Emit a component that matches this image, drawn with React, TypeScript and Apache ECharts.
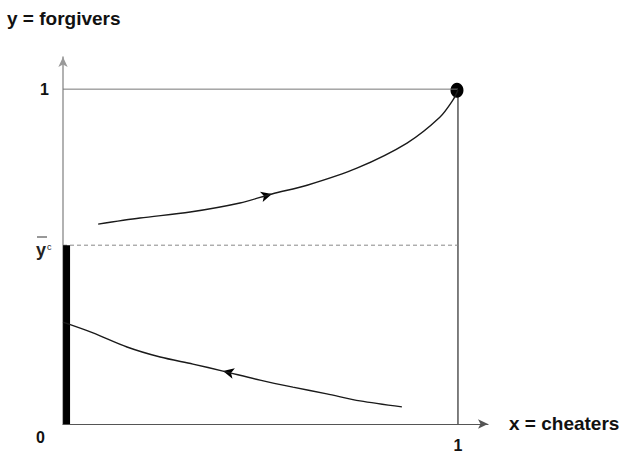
import React, { useEffect, useRef } from "react";
import * as echarts from "echarts";

const upperCurve: [number, number][] = [
  [0.089, 0.597], [0.195, 0.615], [0.322, 0.633], [0.448, 0.66], [0.529, 0.687],
  [0.618, 0.713], [0.744, 0.764], [0.871, 0.839], [0.954, 0.916], [0.987, 0.967], [1, 0.997],
];
const lowerCurve: [number, number][] = [
  [0, 0.304], [0.076, 0.272], [0.162, 0.23], [0.246, 0.2], [0.329, 0.179], [0.405, 0.158],
  [0.499, 0.131], [0.582, 0.11], [0.668, 0.09], [0.752, 0.069], [0.858, 0.051],
];
const yBarC = 0.534;
const upperArrow: [number, number] = [0.529, 0.687];
const lowerArrow: [number, number] = [0.405, 0.158];
const endPoint: [number, number] = [1, 1];
const xTicks = [1];
const yTicks = [1];

const FONT = "Liberation Sans, Arial, sans-serif";

export default function App() {
  const ref = useRef<HTMLDivElement>(null);
  useEffect(() => {
    const chart = echarts.init(ref.current!, null, { renderer: "svg" });
    chart.setOption({
      animation: false,
      backgroundColor: "#fff",
      grid: { left: 63, right: 134, top: 57, bottom: 29 },
      xAxis: {
        type: "value", min: 0, max: 1.076,
        splitLine: { show: false },
        axisTick: { show: false },
        axisLine: { lineStyle: { color: "#555", width: 1.2 }, symbol: ["none", "arrow"], symbolSize: [7, 10] },
        axisLabel: {
          customValues: xTicks, color: "#111", fontFamily: FONT, fontWeight: "bold", fontSize: 16, margin: 13,
          formatter: (v: number) => String(v),
        },
      },
      yAxis: {
        type: "value", min: 0, max: 1.096,
        splitLine: { show: false },
        axisTick: { show: false },
        axisLine: { lineStyle: { color: "#999", width: 1.5 }, symbol: ["none", "arrow"], symbolSize: [7, 10] },
        axisLabel: {
          customValues: yTicks, color: "#111", fontFamily: FONT, fontWeight: "bold", fontSize: 16, margin: 14,
          formatter: (v: number) => String(v),
        },
      },
      graphic: [
        { type: "text", left: 7, top: 9, style: { text: "y = forgivers", font: `bold 19px ${FONT}`, fill: "#111" } },
        { type: "text", left: 509, top: 414, style: { text: "x = cheaters", font: `bold 19px ${FONT}`, fill: "#111" } },
        { type: "text", left: 36, top: 429, style: { text: "0", font: `bold 16px ${FONT}`, fill: "#111" } },
        { type: "text", left: 36, top: 241, style: { text: "y", font: `bold 18px ${FONT}`, fill: "#222" } },
        { type: "text", left: 47, top: 242, style: { text: "c", font: `9px ${FONT}`, fill: "#222" } },
        { type: "line", shape: { x1: 37, y1: 237, x2: 47, y2: 237 }, style: { stroke: "#333", lineWidth: 1 } },
      ],
      series: [
        {
          type: "line", data: [[0, 1], [1, 1]], symbol: "none",
          lineStyle: { color: "#777", width: 1 }, silent: true,
        },
        {
          type: "line", data: [[1, 0], [1, 1]], symbol: "none",
          lineStyle: { color: "#000", width: 1 }, silent: true,
        },
        {
          type: "line", data: [[0, yBarC], [1, yBarC]], symbol: "none",
          lineStyle: { color: "#888", width: 1, type: [4, 3] }, silent: true,
        },
        {
          type: "line", data: [[0.009, 0], [0.009, yBarC]], symbol: "none",
          lineStyle: { color: "#000", width: 7 }, silent: true,
        },
        {
          type: "line", data: upperCurve, symbol: "none", smooth: 0.3,
          lineStyle: { color: "#1a1a1a", width: 1.4 }, silent: true,
        },
        {
          type: "line", data: lowerCurve, symbol: "none", smooth: 0.3,
          lineStyle: { color: "#1a1a1a", width: 1.4 }, silent: true,
        },
        {
          type: "scatter", data: [upperArrow], symbol: "arrow", symbolSize: [8, 11], symbolRotate: -75,
          itemStyle: { color: "#000", opacity: 1 }, silent: true,
        },
        {
          type: "scatter", data: [lowerArrow], symbol: "arrow", symbolSize: [8, 11], symbolRotate: 77,
          itemStyle: { color: "#000", opacity: 1 }, silent: true,
        },
        {
          type: "scatter", data: [endPoint], symbol: "circle", symbolSize: [13, 15], symbolOffset: [-1, 1],
          itemStyle: { color: "#000", opacity: 1 }, silent: true,
        },
      ],
    });
    return () => chart.dispose();
  }, []);
  return <div ref={ref} style={{ width: 622, height: 453, position: "absolute", left: 0, top: 0 }} />;
}
